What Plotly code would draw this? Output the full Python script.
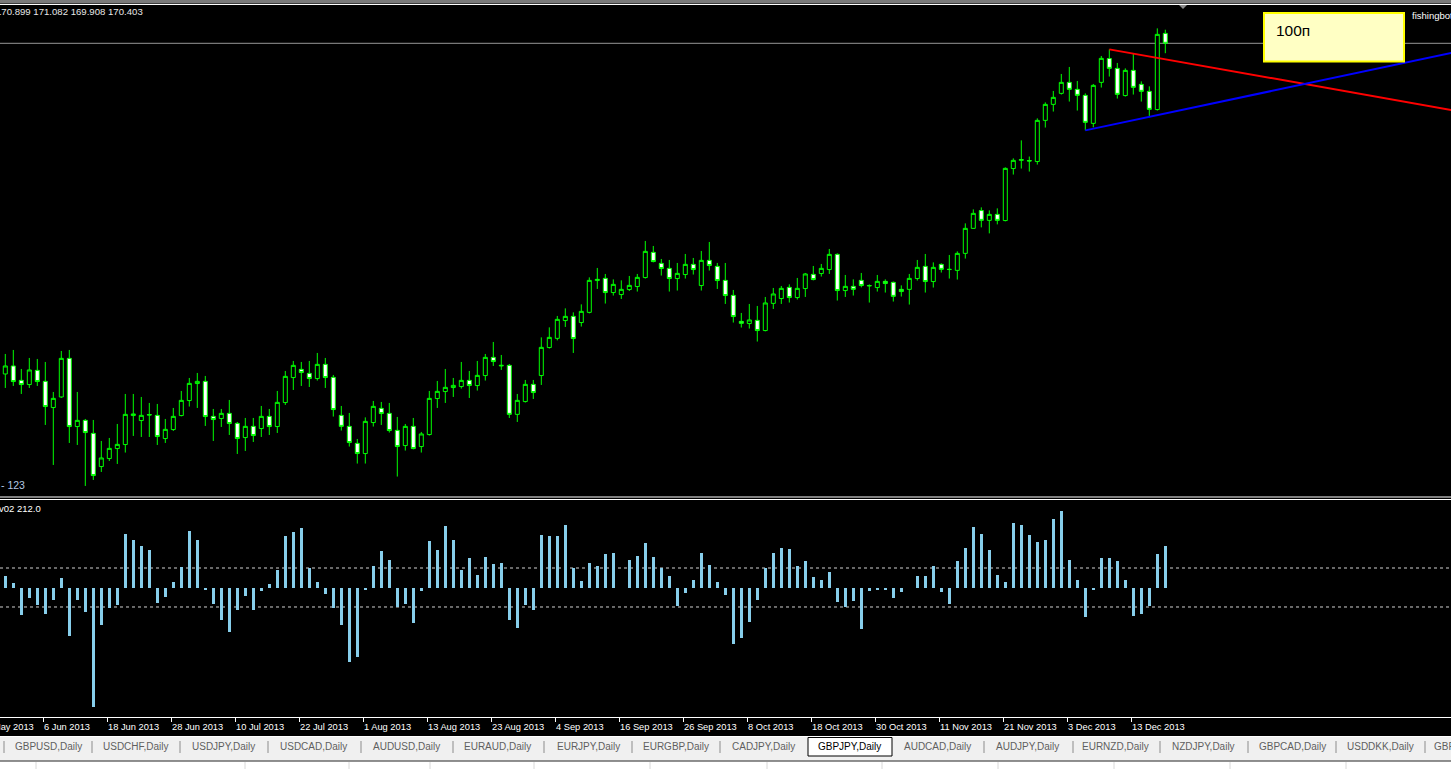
import plotly.graph_objects as go
import pandas as pd

# ---------------- data ----------------
dates = pd.bdate_range("2013-05-30", periods=146)
bar_index = list(range(146))

open_ = [153.87, 154.27, 153.55, 153.34, 154.05, 153.50, 152.19, 152.72, 154.65, 151.24,
         151.55, 150.90, 149.24, 149.64, 150.14, 150.34, 151.79, 151.54, 151.84, 151.80,
         150.64, 151.09, 151.79, 152.54, 153.39, 153.50, 151.75, 151.64, 151.90, 151.40,
         150.69, 151.25, 151.14, 151.75, 151.24, 152.44, 153.69, 154.10, 153.90, 153.64,
         154.35, 153.70, 151.80, 151.25, 150.40, 149.89, 151.44, 152.15, 151.90, 151.05,
         150.29, 151.25, 150.24, 150.84, 152.64, 152.99, 153.19, 153.24, 153.55, 153.29,
         153.79, 154.70, 154.27, 154.30, 151.85, 152.49, 153.35, 153.79, 155.19, 155.65,
         156.54, 156.75, 156.44, 156.95, 158.54, 158.65, 157.94, 157.84, 158.09, 158.24,
         158.69, 159.95, 159.40, 159.15, 158.64, 158.84, 159.35, 158.29, 159.55, 159.25,
         158.55, 157.80, 156.50, 156.39, 156.55, 156.04, 157.40, 157.64, 158.20, 157.69,
         158.14, 158.85, 158.89, 159.09, 159.85, 158.04, 158.25, 158.55, 158.27, 158.19,
         158.50, 158.45, 158.10, 158.10, 158.64, 159.25, 158.49, 159.35, 159.09, 159.05,
         159.90, 161.15, 162.04, 161.55, 161.85, 161.54, 164.14, 164.55, 164.54, 164.49,
         166.55, 167.35, 167.90, 168.45, 168.10, 167.80, 166.40, 168.45, 169.64, 169.15,
         167.79, 169.05, 168.35, 168.00, 167.09, 170.899]
high = [154.87, 155.07, 154.12, 154.67, 154.62, 154.47, 152.97, 155.02, 155.07, 152.97,
        151.62, 151.57, 150.52, 150.67, 151.37, 152.87, 152.87, 152.72, 152.42, 152.37,
        151.62, 152.17, 153.02, 153.67, 153.92, 153.77, 152.12, 152.12, 152.57, 151.47,
        151.67, 151.67, 152.27, 152.12, 153.02, 154.02, 154.52, 154.47, 154.52, 154.92,
        154.67, 153.82, 152.27, 151.92, 150.62, 151.70, 152.52, 152.47, 152.42, 151.72,
        151.37, 151.67, 150.97, 153.02, 153.52, 154.12, 153.67, 154.47, 154.02, 154.52,
        154.87, 155.47, 154.82, 154.37, 152.87, 153.57, 153.57, 155.70, 156.20, 156.77,
        157.15, 156.95, 157.35, 158.70, 159.17, 158.87, 158.60, 158.55, 158.77, 158.87,
        160.52, 160.27, 159.62, 159.57, 159.42, 159.87, 159.67, 160.02, 160.47, 159.42,
        159.42, 158.07, 156.92, 157.37, 157.27, 157.72, 158.17, 158.27, 158.35, 158.67,
        158.92, 159.27, 159.37, 160.12, 159.90, 158.82, 158.60, 158.92, 158.35, 158.82,
        158.60, 158.49, 158.30, 158.87, 159.57, 159.87, 159.45, 159.40, 159.82, 160.00,
        161.40, 162.10, 162.20, 162.05, 162.15, 164.20, 164.65, 165.55, 164.74, 166.65,
        167.45, 168.02, 168.87, 169.22, 168.52, 167.90, 168.37, 169.77, 170.10, 169.42,
        169.15, 169.90, 168.50, 168.25, 171.15, 171.082]
low = [153.17, 153.27, 152.87, 153.17, 153.27, 151.32, 149.32, 152.67, 150.42, 150.32,
       148.27, 148.57, 148.97, 149.52, 149.37, 149.94, 150.77, 150.72, 150.72, 150.32,
       150.42, 151.02, 151.75, 152.24, 152.17, 151.27, 150.52, 151.22, 150.82, 149.87,
       150.02, 150.47, 150.72, 150.82, 150.92, 152.32, 153.07, 153.27, 153.22, 153.54,
       153.17, 151.74, 151.04, 150.24, 149.39, 149.39, 151.24, 151.32, 150.94, 148.74,
       150.04, 150.10, 149.94, 150.79, 152.17, 152.42, 152.72, 153.14, 152.67, 153.04,
       153.54, 154.27, 154.07, 151.67, 151.47, 152.44, 152.62, 153.32, 155.14, 155.55,
       156.22, 154.92, 156.24, 156.90, 158.12, 157.39, 157.79, 157.62, 158.02, 157.99,
       158.64, 159.45, 158.79, 157.99, 158.04, 158.64, 158.84, 158.04, 159.04, 158.12,
       157.37, 156.44, 156.19, 156.14, 155.49, 156.00, 157.12, 157.37, 157.44, 157.59,
       157.72, 158.55, 158.74, 158.87, 157.54, 157.72, 157.79, 158.20, 157.44, 157.99,
       157.94, 157.49, 157.74, 157.34, 158.54, 157.94, 158.19, 158.94, 158.64, 158.59,
       159.64, 161.14, 161.20, 160.90, 161.35, 161.50, 163.84, 164.14, 163.99, 164.34,
       166.19, 166.99, 167.84, 167.49, 167.04, 166.05, 166.20, 168.19, 168.74, 167.64,
       167.74, 167.84, 167.49, 166.70, 167.04, 169.908]
close = [154.27, 153.49, 153.34, 154.07, 153.49, 152.24, 152.65, 154.65, 151.24, 151.55,
         150.94, 148.79, 149.67, 150.15, 150.35, 151.85, 151.87, 151.80, 151.82, 150.74,
         151.10, 151.75, 152.55, 153.40, 153.50, 151.74, 151.59, 151.90, 151.39, 150.64,
         151.25, 150.79, 151.75, 151.24, 152.45, 153.75, 154.30, 153.94, 153.64, 154.35,
         153.69, 152.09, 151.25, 150.44, 149.89, 151.50, 152.25, 151.89, 151.04, 150.24,
         151.25, 150.14, 150.87, 152.65, 153.00, 153.20, 153.30, 153.55, 153.29, 153.80,
         154.70, 154.49, 154.30, 151.85, 152.55, 153.35, 152.94, 155.20, 155.70, 156.60,
         156.75, 155.64, 157.00, 158.55, 158.60, 157.94, 158.35, 158.10, 158.30, 158.70,
         160.00, 159.49, 159.14, 158.64, 158.90, 159.35, 159.09, 159.55, 159.29, 158.54,
         157.79, 156.74, 156.40, 156.57, 156.04, 157.42, 157.87, 158.15, 157.69, 158.15,
         158.87, 158.59, 159.15, 159.85, 158.04, 158.25, 158.10, 158.29, 158.29, 158.50,
         158.39, 157.75, 157.99, 158.65, 159.20, 158.49, 159.20, 159.10, 159.10, 159.90,
         161.15, 161.90, 161.55, 161.85, 161.55, 164.15, 164.55, 164.59, 164.52, 166.55,
         167.35, 167.70, 168.45, 168.10, 167.80, 166.45, 168.30, 169.65, 169.15, 167.85,
         169.05, 168.20, 168.00, 167.10, 170.85, 170.403]

# oscillator histogram (sub window)
osc = [59, 23, -141, -54, -90, -136, -64, 49, -249, -64,
       -126, -613, -192, -105, -90, 274, 244, 213, 192, -80,
       -49, 28, 105, 290, 244, -13, -85, -167, -228, -115,
       -44, -115, -20, 18, 90, 264, 285, 305, 100, 28,
       -33, -105, -192, -382, -356, -13, 110, 187, 141, -100,
       -85, -182, -20, 238, 192, 315, 244, 90, 151, 64,
       156, 120, 126, -167, -208, -90, -115, 269, 264, 264,
       320, 100, 33, 126, 110, 172, 177, 0, 141, 161,
       228, 156, 100, 60, -95, -30, 40, 179, 115, 30,
       -40, -290, -260, -177, -64, 100, 177, 202, 197, 110,
       136, 54, 40, 80, -74, -100, -69, -213, -18, -13,
       -13, -54, -23, -3, 59, 59, 110, -23, -85, 136,
       203, 310, 274, 192, 64, 30, 330, 320, 269, 233,
       244, 351, 392, 141, 38, -151, -13, 151, 151, 136,
       38, -146, -136, -95, 172, 212]
osc_levels = [100, -100]

bid_price = 170.403
header_text = "170.899 171.082 169.908 170.403"

# trend lines (bar index, price)
red_line_x = [138, 181]
red_line_y = [170.10, 167.05]
blue_line_x = [135, 181]
blue_line_y = [166.05, 169.94]

tick_bars = [-3, 5, 13, 21, 29, 37, 45, 53, 61, 69, 77, 85, 93, 101, 109, 117, 125, 133, 141]
tick_labels = ["27 May 2013", "6 Jun 2013", "18 Jun 2013", "28 Jun 2013", "10 Jul 2013",
               "22 Jul 2013", "1 Aug 2013", "13 Aug 2013", "23 Aug 2013", "4 Sep 2013",
               "16 Sep 2013", "26 Sep 2013", "8 Oct 2013", "18 Oct 2013", "30 Oct 2013",
               "11 Nov 2013", "21 Nov 2013", "3 Dec 2013", "13 Dec 2013"]

tab_labels = ["GBPUSD,Daily", "USDCHF,Daily", "USDJPY,Daily", "USDCAD,Daily", "AUDUSD,Daily",
              "EURAUD,Daily", "EURJPY,Daily", "EURGBP,Daily", "CADJPY,Daily", "GBPJPY,Daily",
              "AUDCAD,Daily", "AUDJPY,Daily", "EURNZD,Daily", "NZDJPY,Daily", "GBPCAD,Daily",
              "USDDKK,Daily", "GBPCHF,Daily"]
active_tab = "GBPJPY,Daily"

# ---------------- layout geometry ----------------
W, H = 1451, 769
BAR_PX = 8.0
X0 = -5.3 / BAR_PX
X1 = X0 + W / BAR_PX
PRICE_PER_PX = 0.05
MAIN_TOP, MAIN_BOT = 5, 496
SUB_TOP, SUB_BOT = 500, 717
BID_PX = 43.3
y_top = bid_price + (BID_PX - MAIN_TOP) * PRICE_PER_PX
y_bot = bid_price - (MAIN_BOT - BID_PX) * PRICE_PER_PX
OSC_PER_PX = 5.13
ZERO_PX = 587.5
o_top = (ZERO_PX - SUB_TOP) * OSC_PER_PX
o_bot = -(SUB_BOT - ZERO_PX) * OSC_PER_PX


def py(p):
    return 1 - p / H


def pxx(p):
    return p / W


FONT = "Liberation Sans, Arial, sans-serif"
GREEN = "#00ff00"

fig = go.Figure()

fig.add_trace(go.Candlestick(
    x=bar_index, open=open_, high=high, low=low, close=close,
    increasing=dict(line=dict(color=GREEN, width=1), fillcolor="#000000"),
    decreasing=dict(line=dict(color=GREEN, width=1), fillcolor="#ffffff"),
    whiskerwidth=0, showlegend=False, hoverinfo="skip", xaxis="x", yaxis="y"))

fig.add_trace(go.Scatter(x=red_line_x, y=red_line_y, mode="lines",
                         line=dict(color="#ff0000", width=2), showlegend=False,
                         hoverinfo="skip", xaxis="x", yaxis="y"))
fig.add_trace(go.Scatter(x=blue_line_x, y=blue_line_y, mode="lines",
                         line=dict(color="#0000ff", width=2), showlegend=False,
                         hoverinfo="skip", xaxis="x", yaxis="y"))

fig.add_trace(go.Bar(x=bar_index, y=osc, width=0.375, marker=dict(color="#87ceeb", line=dict(width=0)),
                     showlegend=False, hoverinfo="skip", xaxis="x2", yaxis="y2"))

shapes = []
# top border
shapes.append(dict(type="rect", xref="paper", yref="paper", x0=0, x1=1, y0=py(3.5), y1=py(0),
                   fillcolor="#7a7a7a", line=dict(width=0)))
shapes.append(dict(type="line", xref="paper", yref="paper", x0=0, x1=1, y0=py(4.5), y1=py(4.5),
                   line=dict(color="#ffffff", width=1)))
# bid line
shapes.append(dict(type="line", xref="paper", yref="y", x0=0, x1=1, y0=bid_price, y1=bid_price,
                   line=dict(color="#969696", width=1), layer="below"))
# window separators
for yy in (497, 499.5, 717.5, 736.5):
    shapes.append(dict(type="line", xref="paper", yref="paper", x0=0, x1=1, y0=py(yy), y1=py(yy),
                       line=dict(color="#ffffff", width=1)))
# oscillator levels
for lv in osc_levels:
    shapes.append(dict(type="line", xref="paper", yref="y2", x0=0, x1=1, y0=lv, y1=lv,
                       line=dict(color="#d0d0d0", width=1, dash="3px,3px"), layer="below"))
# tab strip
shapes.append(dict(type="rect", xref="paper", yref="paper", x0=0, x1=1, y0=py(760.5), y1=py(737),
                   fillcolor="#f0f0f0", line=dict(width=0)))
shapes.append(dict(type="rect", xref="paper", yref="paper", x0=0, x1=1, y0=py(769), y1=py(761.5),
                   fillcolor="#ffffff", line=dict(width=0)))
shapes.append(dict(type="line", xref="paper", yref="paper", x0=0, x1=1, y0=py(761), y1=py(761),
                   line=dict(color="#a0a0a0", width=1)))
for vx in (36, 245, 349, 430, 534, 650, 767, 882, 998, 1114, 1230, 1346):
    shapes.append(dict(type="line", xref="paper", yref="paper", x0=pxx(vx), x1=pxx(vx),
                       y0=py(769), y1=py(762), line=dict(color="#d8d8d8", width=1)))
# chart shift marker
shapes.append(dict(type="path", xref="paper", yref="paper",
                   path=f"M {pxx(1179)} {py(5)} L {pxx(1187)} {py(5)} L {pxx(1183)} {py(9)} Z",
                   fillcolor="#8a8a8a", line=dict(width=0)))
# yellow label box
shapes.append(dict(type="rect", xref="paper", yref="paper", x0=pxx(1264), x1=pxx(1404),
                   y0=py(61.5), y1=py(13), fillcolor="#ffffc4", line=dict(color="#ffff00", width=2)))

annotations = []
tab_x = [14, 102, 191, 279, 372, 463, 556, 642, 731, 817, 903, 995, 1081, 1171, 1258, 1346, 1433]
seps = [4, 92, 180, 268, 361, 453, 544, 632, 720, 984, 1073, 1160, 1248, 1336, 1425]
for sx in seps:
    shapes.append(dict(type="line", xref="paper", yref="paper", x0=pxx(sx), x1=pxx(sx),
                       y0=py(753), y1=py(741), line=dict(color="#8c8c8c", width=1)))
shapes.append(dict(type="rect", xref="paper", yref="paper", x0=pxx(808), x1=pxx(892),
                   y0=py(756), y1=py(737.5), fillcolor="#ffffff", line=dict(color="#000000", width=1)))

for lab, tx0 in zip(tab_labels, tab_x):
    annotations.append(dict(xref="paper", yref="paper", x=pxx(tx0 - 1), y=py(746.5), text=lab,
                            showarrow=False, xanchor="left", yanchor="middle",
                            font=dict(family=FONT, size=10,
                                      color="#000000" if lab == active_tab else "#5f5f5f")))

for b, lab in zip(tick_bars, tick_labels):
    xp = (b - 0.25 - X0) / (X1 - X0)
    annotations.append(dict(xref="paper", yref="paper", x=xp, y=py(727), text=lab,
                            showarrow=False, xanchor="left", yanchor="middle", xshift=-1,
                            font=dict(family=FONT, size=9.3, color="#ffffff")))

annotations += [
    dict(xref="paper", yref="paper", x=pxx(-4), y=py(12), text=header_text, showarrow=False,
         xanchor="left", yanchor="middle", xshift=-2,
         font=dict(family=FONT, size=9.6, color="#e8e8e8")),
    dict(xref="paper", yref="paper", x=pxx(1), y=py(485), text="- 123", showarrow=False,
         xanchor="left", yanchor="middle", xshift=-2,
         font=dict(family=FONT, size=10.5, color="#b4c8e4")),
    dict(xref="paper", yref="paper", x=pxx(-1), y=py(508.5), text="v02 212.0", showarrow=False,
         xanchor="left", yanchor="middle", xshift=-2,
         font=dict(family=FONT, size=9.5, color="#ffffff")),
    dict(xref="paper", yref="paper", x=pxx(1412), y=py(15.5), text="fishingbot", showarrow=False,
         xanchor="left", yanchor="middle", xshift=-2,
         font=dict(family=FONT, size=9.5, color="#ffffff")),
    dict(xref="paper", yref="paper", x=pxx(1276), y=py(30.5), text="100п", showarrow=False,
         xanchor="left", yanchor="middle", xshift=-2,
         font=dict(family=FONT, size=15.5, color="#000000")),
]

fig.update_layout(
    width=W, height=H, autosize=False,
    margin=dict(l=0, r=0, t=0, b=0, pad=0),
    paper_bgcolor="#000000", plot_bgcolor="#000000",
    showlegend=False, hovermode=False,
    boxgap=0.5, boxgroupgap=0, bargap=0,
    shapes=shapes, annotations=annotations,
    xaxis=dict(domain=[0, 1], range=[X0, X1], anchor="y", showgrid=False, zeroline=False,
               showticklabels=False, ticks="", rangeslider=dict(visible=False), fixedrange=True),
    yaxis=dict(domain=[py(MAIN_BOT), py(MAIN_TOP)], range=[y_bot, y_top], anchor="x",
               showgrid=False, zeroline=False, showticklabels=False, ticks="", fixedrange=True),
    xaxis2=dict(domain=[0, 1], range=[X0, X1], anchor="y2", showgrid=False, zeroline=False,
                showticklabels=False, ticks="outside", ticklen=4, tickwidth=1, tickcolor="#ffffff",
                tickvals=[b - 0.25 for b in tick_bars], fixedrange=True),
    yaxis2=dict(domain=[py(SUB_BOT), py(SUB_TOP)], range=[o_bot, o_top], anchor="x2",
                showgrid=False, zeroline=False, showticklabels=False, ticks="", fixedrange=True),
)

fig.write_html("out.html", config=dict(displayModeBar=False, staticPlot=True))
